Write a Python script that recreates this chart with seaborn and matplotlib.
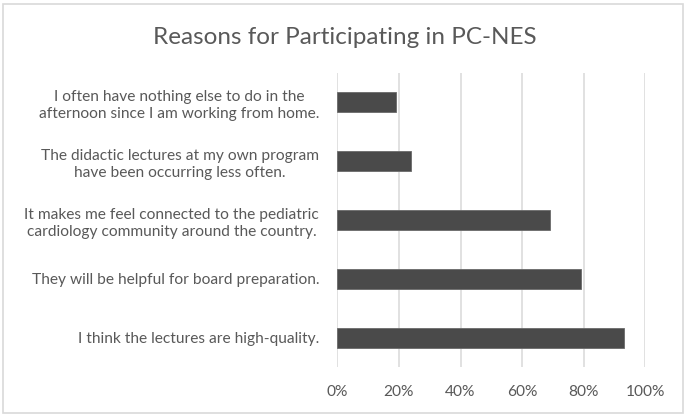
import numpy as np
import pandas as pd
import matplotlib
matplotlib.use("Agg")
import matplotlib.pyplot as plt
from matplotlib.patches import Rectangle
from matplotlib.ticker import FuncFormatter
import seaborn as sns

# chart data, top to bottom
reasons = [
    "I often have nothing else to do in the\nafternoon since I am working from home.",
    "The didactic lectures at my own program\nhave been occurring less often.",
    "It makes me feel connected to the pediatric\ncardiology community around the country.",
    "They will be helpful for board preparation.",
    "I think the lectures are high-quality.",
]
shares = [0.19, 0.24, 0.69, 0.79, 0.93]
x_ticks = [0, 0.2, 0.4, 0.6, 0.8, 1.0]
title = "Reasons for Participating in PC-NES"

TEXT = "#595959"
BAR = "#4a4a4a"
GRID = "#d9d9d9"

sns.set_style("white")
plt.rcParams["font.family"] = ["Lato", "DejaVu Sans"]

df = pd.DataFrame({"reason": reasons, "share": shares})

fig = plt.figure(figsize=(6.89, 4.16), dpi=100)
ax = fig.add_axes([337.3 / 689, 49 / 416, 308 / 689, 294 / 416])

sns.barplot(data=df, x="share", y="reason", orient="h", color=BAR,
            saturation=1, width=0.34, edgecolor="#6a6a6a", linewidth=0.6,
            ax=ax, zorder=3)

ax.set_xlim(0, 1)
ax.set_xticks(x_ticks)
ax.xaxis.set_major_formatter(FuncFormatter(lambda v, _: f"{v:.0%}"))
ax.grid(axis="x", color=GRID, linewidth=1.1, zorder=0)
ax.set_axisbelow(True)
ax.set_xlabel("")
ax.set_ylabel("")
sns.despine(ax=ax, left=True, bottom=True)
ax.tick_params(axis="both", length=0, labelcolor=TEXT, labelsize=11.2)
ax.tick_params(axis="x", pad=13)
ax.tick_params(axis="y", pad=13)
for lbl in ax.get_yticklabels():
    lbl.set_multialignment("center")
    lbl.set_linespacing(1.3)

fig.text(0.5, 1 - 37 / 416, title, ha="center", va="center",
         fontsize=17.5, color=TEXT)

# chart-area border
fig.patches.append(Rectangle((3 / 689, 3 / 416), 680 / 689, 409 / 416,
                             transform=fig.transFigure, fill=False,
                             edgecolor=GRID, linewidth=1.2))

fig.savefig("out.png", dpi=100)
